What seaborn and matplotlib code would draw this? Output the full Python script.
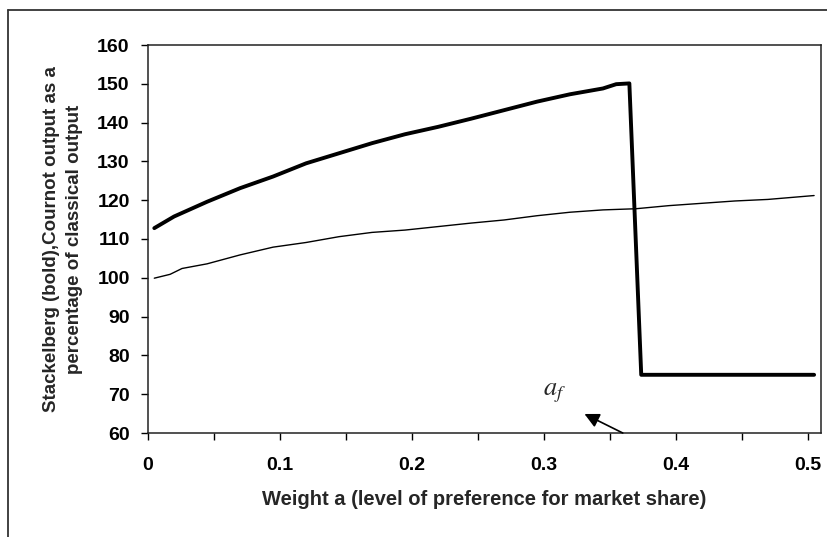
import numpy as np
import pandas as pd
import matplotlib
matplotlib.use("Agg")
import matplotlib.pyplot as plt
import seaborn as sns
from matplotlib.lines import Line2D

# weight a values and output (% of classical output)
stack_a = [0.005, 0.02, 0.045, 0.07, 0.095, 0.12, 0.145, 0.17, 0.195, 0.22,
           0.245, 0.27, 0.295, 0.32, 0.345, 0.355, 0.365, 0.374, 0.505]
stack_out = [112.8, 115.8, 119.6, 123.1, 126.1, 129.5, 132.1, 134.7, 137.0, 138.9,
             141.0, 143.2, 145.4, 147.3, 148.8, 149.9, 150.1, 75.0, 75.0]

cournot_a = [0.005, 0.017, 0.026, 0.045, 0.07, 0.095, 0.12, 0.145, 0.17, 0.195,
             0.22, 0.245, 0.27, 0.295, 0.32, 0.345, 0.37, 0.395, 0.42, 0.445,
             0.47, 0.505]
cournot_out = [99.9, 100.9, 102.4, 103.6, 105.9, 107.9, 109.1, 110.6, 111.7, 112.3,
               113.2, 114.1, 114.9, 116.0, 116.9, 117.5, 117.8, 118.6, 119.2, 119.8,
               120.2, 121.2]

xticks = [0, 0.1, 0.2, 0.3, 0.4, 0.5]
xticklabels = ["0", "0.1", "0.2", "0.3", "0.4", "0.5"]
yticks = list(range(60, 161, 10))

sns.set_style("ticks")
plt.rcParams["font.family"] = ["Liberation Sans", "DejaVu Sans"]
plt.rcParams["mathtext.fontset"] = "stix"

fig = plt.figure(figsize=(8.28, 5.37), dpi=100)
ax = fig.add_axes([147.7 / 828, 1 - 433 / 537, (820.7 - 147.7) / 828, (433 - 45) / 537])

stack = pd.DataFrame({"a": stack_a, "out": stack_out})
cournot = pd.DataFrame({"a": cournot_a, "out": cournot_out})
sns.lineplot(data=stack, x="a", y="out", ax=ax, sort=False, color="black", lw=2.8)
sns.lineplot(data=cournot, x="a", y="out", ax=ax, sort=False, color="black", lw=1.0)

ax.set_xlim(0, 0.51)
ax.set_ylim(60, 160)
ax.set_xticks(xticks)
ax.set_xticklabels(xticklabels)
ax.set_xticks(np.arange(0.05, 0.5, 0.1), minor=True)
ax.set_yticks(yticks)
ax.tick_params(axis="both", which="both", length=5, width=1, direction="out", colors="black")
ax.tick_params(axis="x", which="major", pad=12, labelsize=14)
ax.tick_params(axis="y", which="major", pad=8, labelsize=14)
for lab in ax.get_xticklabels() + ax.get_yticklabels():
    lab.set_fontweight("bold")
for sp in ax.spines.values():
    sp.set_color("#222222")
    sp.set_linewidth(1.1)

ax.set_xlabel("Weight a (level of preference for market share)", fontsize=14.5,
              fontweight="bold", labelpad=12)
ax.set_ylabel("Stackelberg (bold),Cournot output as a\npercentage of classical output",
              fontsize=13.5, fontweight="bold", labelpad=10, linespacing=1.45)

ax.text(0.3085, 70.3, r"$a_f$", fontsize=19, ha="center", va="center")
ax.annotate("", xy=(0.331, 64.9), xytext=(0.360, 60.0),
            arrowprops=dict(arrowstyle="-|>", color="black", lw=1.2,
                            mutation_scale=22, shrinkA=0, shrinkB=0))

# outer frame around the chart (clipped at the right and bottom)
fig.add_artist(Line2D([8 / 828, 8 / 828], [0, 1 - 9.5 / 537], color="#333333", lw=1.3))
fig.add_artist(Line2D([8 / 828, 1], [1 - 9.5 / 537, 1 - 9.5 / 537], color="#333333", lw=1.3))

fig.savefig("out.png", dpi=100)
